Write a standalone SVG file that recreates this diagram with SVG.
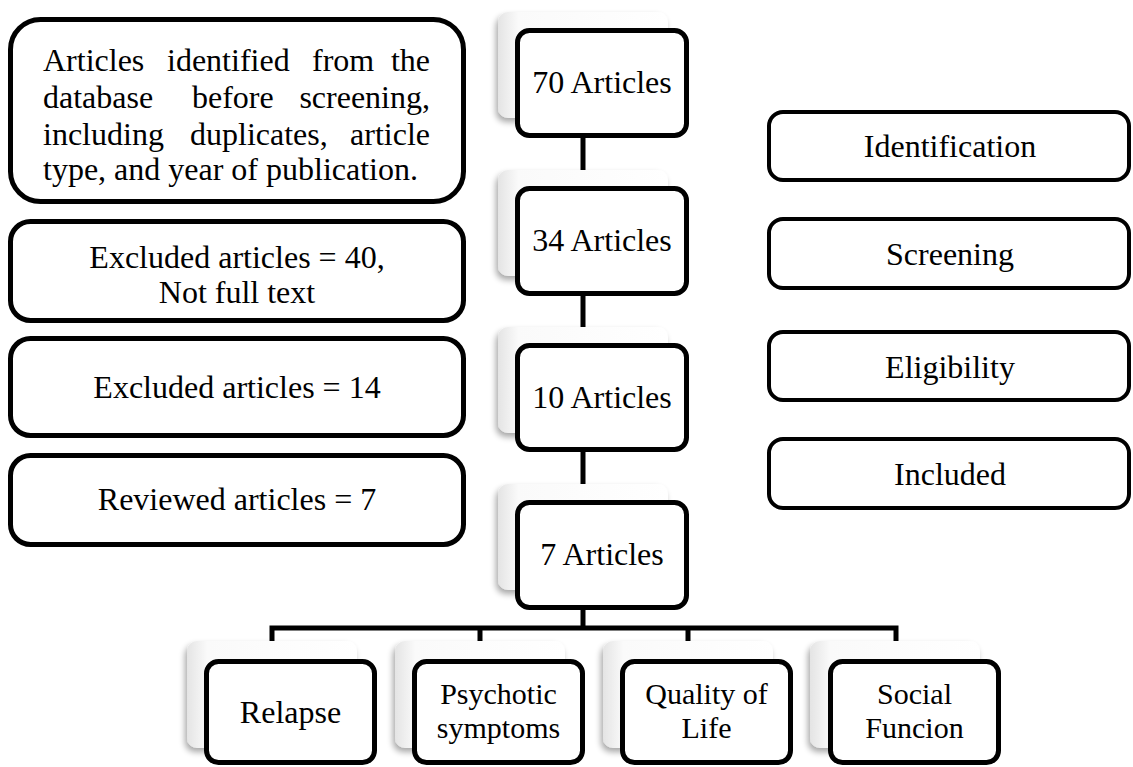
<svg xmlns="http://www.w3.org/2000/svg" width="1133" height="767" viewBox="0 0 1133 767">
<style>
text{font-family:"Liberation Serif","Times New Roman",serif;font-size:32px;fill:#000}
.c{text-anchor:middle}
.e{text-anchor:end}
.two{font-size:30px}
.box{fill:#fff;stroke:#000;stroke-width:5}
.rbox{fill:#fff;stroke:#000;stroke-width:4}
.sh{fill:url(#g);filter:url(#ds)}
.con{stroke:#000;stroke-width:5;fill:none}
</style>
<defs>
<linearGradient id="g" x1="0" y1="0" x2="1" y2="0">
<stop offset="0" stop-color="#e4e4e4"/>
<stop offset="0.12" stop-color="#fafafa"/>
<stop offset="1" stop-color="#ffffff"/>
</linearGradient>
<filter id="ds" x="-20%" y="-20%" width="140%" height="140%">
<feGaussianBlur in="SourceAlpha" stdDeviation="3"/>
<feOffset dx="-2" dy="4" result="b"/>
<feComponentTransfer><feFuncA type="linear" slope="0.35"/></feComponentTransfer>
<feMerge><feMergeNode/><feMergeNode in="SourceGraphic"/></feMerge>
</filter>
</defs>
<rect width="1133" height="767" fill="#fff"/>

<g id="connectors">
<line class="con" x1="583" y1="138" x2="583" y2="172"/>
<line class="con" x1="583" y1="296" x2="583" y2="329"/>
<line class="con" x1="583" y1="452" x2="583" y2="486"/>
<line class="con" x1="583" y1="610" x2="583" y2="628"/>
<polyline class="con" points="272,643 272,628 896,628 896,643"/>
<line class="con" x1="480" y1="628" x2="480" y2="643"/>
<line class="con" x1="688" y1="628" x2="688" y2="643"/>
</g>

<g id="n70">
<rect class="sh" x="498" y="12" width="170" height="106" rx="10"/>
<rect class="box" x="517.5" y="30.5" width="169" height="105" rx="12"/>
<text class="c" x="602" y="93">70 Articles</text>
</g>
<g id="n34">
<rect class="sh" x="498" y="170" width="170" height="106" rx="10"/>
<rect class="box" x="517.5" y="188.5" width="169" height="105" rx="12"/>
<text class="c" x="602" y="251">34 Articles</text>
</g>
<g id="n10">
<rect class="sh" x="498" y="327" width="170" height="106" rx="10"/>
<rect class="box" x="517.5" y="345.5" width="169" height="104" rx="12"/>
<text class="c" x="602" y="408">10 Articles</text>
</g>
<g id="n7">
<rect class="sh" x="498" y="484" width="170" height="106" rx="10"/>
<rect class="box" x="517.5" y="502.5" width="169" height="105" rx="12"/>
<text class="c" x="602" y="565">7 Articles</text>
</g>

<g id="relapse">
<rect class="sh" x="187" y="641" width="170" height="107" rx="10"/>
<rect class="box" x="206.5" y="661.5" width="168" height="101" rx="12"/>
<text class="c" x="290.5" y="723">Relapse</text>
</g>
<g id="psychotic">
<rect class="sh" x="395" y="641" width="170" height="107" rx="10"/>
<rect class="box" x="414.5" y="661.5" width="168" height="101" rx="12"/>
<text class="c two" x="498.5" y="704">Psychotic<tspan x="498.5" y="738">symptoms</tspan></text>
</g>
<g id="quality">
<rect class="sh" x="603" y="641" width="170" height="107" rx="10"/>
<rect class="box" x="622.5" y="661.5" width="168" height="101" rx="12"/>
<text class="c two" x="706.5" y="704">Quality of<tspan x="706.5" y="738">Life</tspan></text>
</g>
<g id="social">
<rect class="sh" x="810" y="641" width="170" height="107" rx="10"/>
<rect class="box" x="830.5" y="661.5" width="168" height="101" rx="12"/>
<text class="c two" x="914.5" y="704">Social<tspan x="914.5" y="738">Funcion</tspan></text>
</g>

<g id="identified">
<rect class="box" x="10.5" y="19.5" width="453" height="182" rx="30"/>
<text x="43" y="71">Articles</text><text x="167" y="71">identified</text><text x="312" y="71">from</text><text class="e" x="430" y="71">the</text>
<text x="43" y="108">database</text><text x="192" y="108">before</text><text class="e" x="430" y="108">screening,</text>
<text x="43" y="145">including</text><text x="190" y="145">duplicates,</text><text class="e" x="430" y="145">article</text>
<text x="43" y="180">type, and year of publication.</text>
</g>
<g id="excluded40">
<rect class="box" x="10.5" y="221.5" width="453" height="99" rx="20"/>
<text class="c" x="237" y="268">Excluded articles = 40,<tspan x="237" y="303">Not full text</tspan></text>
</g>
<g id="excluded14">
<rect class="box" x="10.5" y="338.5" width="453" height="97" rx="20"/>
<text class="c" x="237" y="398">Excluded articles = 14</text>
</g>
<g id="reviewed">
<rect class="box" x="10.5" y="455.5" width="453" height="89" rx="20"/>
<text class="c" x="237" y="510">Reviewed articles = 7</text>
</g>

<g id="identification">
<rect class="rbox" x="769" y="112" width="360" height="68" rx="14"/>
<text class="c" x="950" y="157">Identification</text>
</g>
<g id="screening">
<rect class="rbox" x="769" y="219" width="360" height="69" rx="14"/>
<text class="c" x="950" y="265">Screening</text>
</g>
<g id="eligibility">
<rect class="rbox" x="769" y="332" width="360" height="68" rx="14"/>
<text class="c" x="950" y="378">Eligibility</text>
</g>
<g id="included">
<rect class="rbox" x="769" y="439" width="360" height="69" rx="14"/>
<text class="c" x="950" y="485">Included</text>
</g>
</svg>
